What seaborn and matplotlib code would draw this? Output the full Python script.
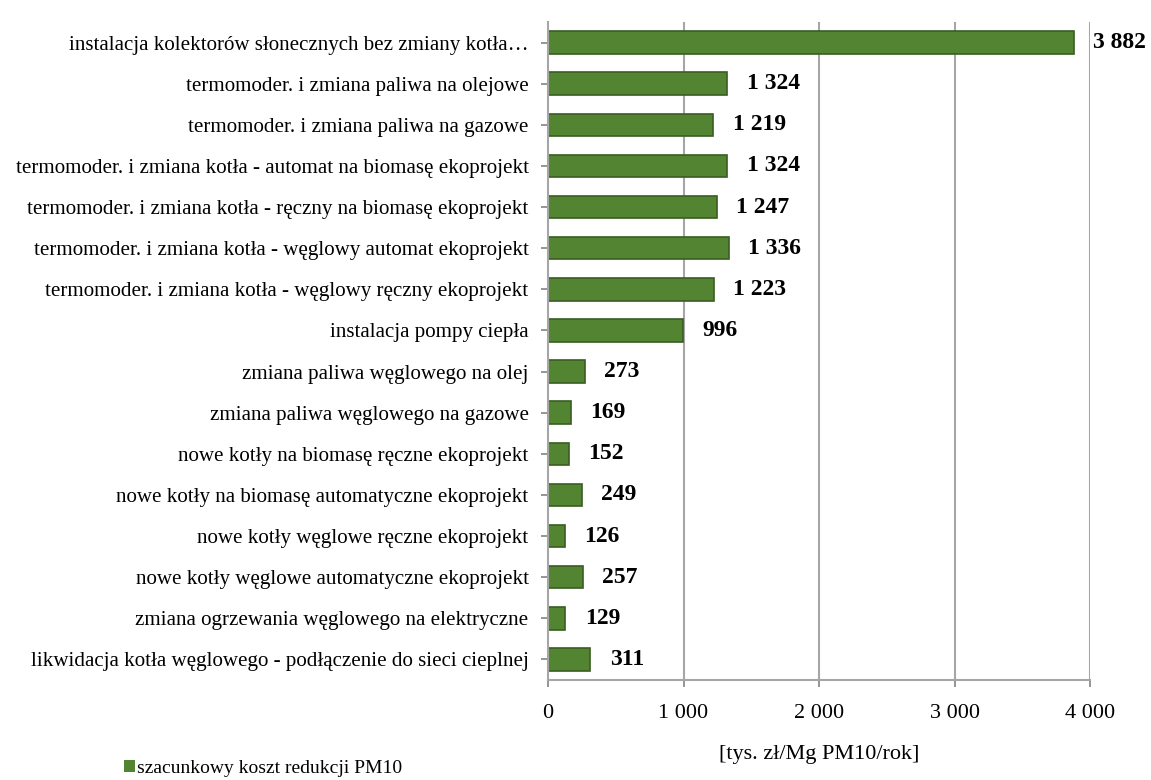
import matplotlib
matplotlib.use("Agg")
import matplotlib.pyplot as plt
import seaborn as sns
import pandas as pd
from matplotlib.patches import Patch

categories = [
    "instalacja kolektorów słonecznych bez zmiany kotła…",
    "termomoder. i zmiana paliwa na olejowe",
    "termomoder. i zmiana paliwa na gazowe",
    "termomoder. i zmiana kotła - automat na biomasę ekoprojekt",
    "termomoder. i zmiana kotła - ręczny na biomasę ekoprojekt",
    "termomoder. i zmiana kotła - węglowy automat ekoprojekt",
    "termomoder. i zmiana kotła - węglowy ręczny ekoprojekt",
    "instalacja pompy ciepła",
    "zmiana paliwa węglowego na olej",
    "zmiana paliwa węglowego na gazowe",
    "nowe kotły na biomasę ręczne ekoprojekt",
    "nowe kotły na biomasę automatyczne ekoprojekt",
    "nowe kotły węglowe ręczne ekoprojekt",
    "nowe kotły węglowe automatyczne ekoprojekt",
    "zmiana ogrzewania węglowego na elektryczne",
    "likwidacja kotła węglowego - podłączenie do sieci cieplnej",
]
values = [3882, 1324, 1219, 1324, 1247, 1336, 1223, 996, 273, 169, 152, 249, 126, 257, 129, 311]
value_labels = ["3 882", "1 324", "1 219", "1 324", "1 247", "1 336", "1 223", "996",
                "273", "169", "152", "249", "126", "257", "129", "311"]
xticks = [0, 1000, 2000, 3000, 4000]
xtick_labels = ["0", "1 000", "2 000", "3 000", "4 000"]
series_name = "szacunkowy koszt redukcji PM10"
xlabel = "[tys. zł/Mg PM10/rok]"

df = pd.DataFrame({"cat": categories, "val": values})

sns.set_theme(style="white")
plt.rcParams["font.family"] = ["Liberation Serif", "DejaVu Serif"]
plt.rcParams["text.color"] = "black"
plt.rcParams["xtick.labelcolor"] = "black"
plt.rcParams["ytick.labelcolor"] = "black"
plt.rcParams["axes.labelcolor"] = "black"

fig = plt.figure(figsize=(11.51, 7.80), dpi=100)
ax = fig.add_axes([548/1151, 1 - 680/780, (1090 - 548)/1151, (680 - 22)/780])

green = "#528432"
sns.barplot(data=df, x="val", y="cat", orient="h", color=green, width=0.55,
            edgecolor="#3A5E22", linewidth=1.2, saturation=1, ax=ax)

ax.set_xlim(0, 4000)
ax.set_xticks(xticks)
ax.set_xticklabels(xtick_labels, fontsize=16)
ax.set_xlabel(xlabel, fontsize=16, labelpad=16)
ax.set_ylabel("")
ax.tick_params(axis="y", labelsize=15.1, length=5, color="#888888", pad=9, left=True)
ax.tick_params(axis="x", length=5, color="#888888", pad=12, bottom=True)

for x in xticks[1:]:
    ax.axvline(x, color="#A6A6A6", lw=1.5, zorder=0)
for s in ["top", "right"]:
    ax.spines[s].set_visible(False)
for s in ["left", "bottom"]:
    ax.spines[s].set_color("#A6A6A6")
    ax.spines[s].set_linewidth(1.5)

for i, (v, lab) in enumerate(zip(values, value_labels)):
    ax.annotate(lab, xy=(v, i), xytext=(14, 0), textcoords="offset points",
                va="center", ha="left", fontsize=17, fontweight="bold",
                annotation_clip=False)

fig.legend(handles=[Patch(facecolor=green, edgecolor="none")], labels=[series_name],
           loc="lower left", bbox_to_anchor=(106/1151, -0.018), frameon=False,
           fontsize=14, handlelength=0.6, handleheight=0.6, handletextpad=0.1)

fig.savefig("out.png", dpi=100)
